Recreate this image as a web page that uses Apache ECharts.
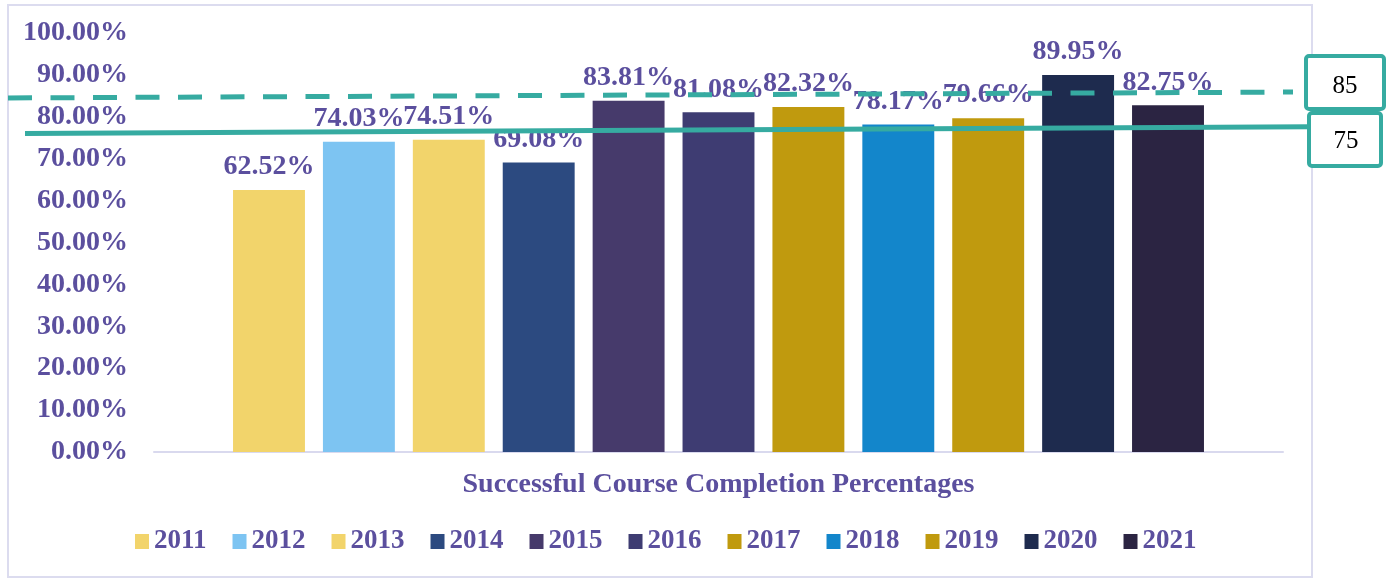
<!DOCTYPE html>
<html>
<head>
<meta charset="utf-8">
<script src="https://cdn.jsdelivr.net/npm/echarts@6/dist/echarts.min.js"></script>
<style>
    html, body { margin: 0; padding: 0; background: #fff; }
    #chart { width: 1388px; height: 579px; }
</style>
</head>
<body>
<div id="chart"></div>
<script>
// data
const category = ['Successful Course Completion Percentages'];
const years = ['2011', '2012', '2013', '2014', '2015', '2016', '2017', '2018', '2019', '2020', '2021'];
const completion = [62.52, 74.03, 74.51, 69.08, 83.81, 81.08, 82.32, 78.17, 79.66, 89.95, 82.75];
const barColors = ['#F2D46B', '#7DC4F2', '#F2D46B', '#2C4A80', '#463A6B', '#3E3C72',
    '#C09A0E', '#1386CB', '#C09A0E', '#1E2B4E', '#2B2442'];
const yTicks = {min: 0, max: 100, interval: 10};
// target lines: label, value at left end, value at right end
const targetLabels = ['85', '75'];
const targetStart = [84.5, 76.0];
const targetEnd = [85.9, 77.6];

const textColor = '#5B4F9E';
const teal = '#36ABA1';
const serif = '"Liberation Serif", "Times New Roman", serif';

const chartDom = document.getElementById('chart');
const myChart = echarts.init(chartDom);

const series = years.map((y, i) => ({
    name: y,
    type: 'bar',
    data: [completion[i]],
    itemStyle: {color: barColors[i]},
    barGap: '25%',
    barCategoryGap: '14%',
    label: {
        show: true,
        position: 'top',
        distance: 9,
        formatter: p => p.value.toFixed(2) + '%',
        color: textColor,
        fontFamily: serif,
        fontWeight: 'bold',
        fontSize: 28
    }
}));

const option = {
    backgroundColor: '#fff',
    animation: false,
    grid: {left: 154, right: 105, top: 33, bottom: 127, containLabel: false},
    legend: {
        data: years,
        bottom: 19,
        left: 130,
        icon: 'rect',
        itemWidth: 14,
        itemHeight: 15,
        itemGap: 26,
        textStyle: {color: textColor, fontFamily: serif, fontWeight: 'bold', fontSize: 27}
    },
    xAxis: {
        type: 'category',
        data: category,
        axisLine: {lineStyle: {color: '#D9D9EE', width: 2}},
        axisTick: {show: false},
        axisLabel: {
            margin: 19,
            color: textColor,
            fontFamily: serif,
            fontWeight: 'bold',
            fontSize: 28
        }
    },
    yAxis: {
        type: 'value',
        min: yTicks.min,
        max: yTicks.max,
        interval: yTicks.interval,
        splitLine: {show: false},
        axisLine: {show: false},
        axisTick: {show: false},
        axisLabel: {
            margin: 26,
            formatter: v => v.toFixed(2) + '%',
            color: textColor,
            fontFamily: serif,
            fontWeight: 'bold',
            fontSize: 28
        }
    },
    series: series
};

myChart.setOption(option);

// outer frame + hand drawn target lines and their boxes
const pxStart = targetStart.map(v => myChart.convertToPixel({yAxisIndex: 0}, v));
const pxEnd = targetEnd.map(v => myChart.convertToPixel({yAxisIndex: 0}, v));

const graphic = [
    {
        type: 'rect', z: 0, silent: true,
        shape: {x: 8, y: 5, width: 1304, height: 572},
        style: {fill: 'none', stroke: '#DCDCEF', lineWidth: 2}
    },
    {
        type: 'line', z: 10, silent: true,
        shape: {x1: 8, y1: pxStart[0], x2: 1293, y2: pxEnd[0]},
        style: {stroke: teal, lineWidth: 5, lineDash: [24, 18.5]}
    },
    {
        type: 'line', z: 10, silent: true,
        shape: {x1: 25, y1: pxStart[1], x2: 1310, y2: pxEnd[1]},
        style: {stroke: teal, lineWidth: 5}
    },
    {
        type: 'rect', z: 11, silent: true,
        shape: {x: 1306, y: 56, width: 78, height: 53, r: 3},
        style: {fill: '#fff', stroke: teal, lineWidth: 4}
    },
    {
        type: 'text', z: 12, silent: true,
        x: 1345, y: 86,
        style: {text: targetLabels[0], fill: '#000', font: '25px ' + serif, align: 'center', verticalAlign: 'middle'}
    },
    {
        type: 'rect', z: 11, silent: true,
        shape: {x: 1309, y: 113, width: 72, height: 53, r: 3},
        style: {fill: '#fff', stroke: teal, lineWidth: 4}
    },
    {
        type: 'text', z: 12, silent: true,
        x: 1346, y: 141,
        style: {text: targetLabels[1], fill: '#000', font: '25px ' + serif, align: 'center', verticalAlign: 'middle'}
    }
];

myChart.setOption({graphic: graphic});
</script>
</body>
</html>
